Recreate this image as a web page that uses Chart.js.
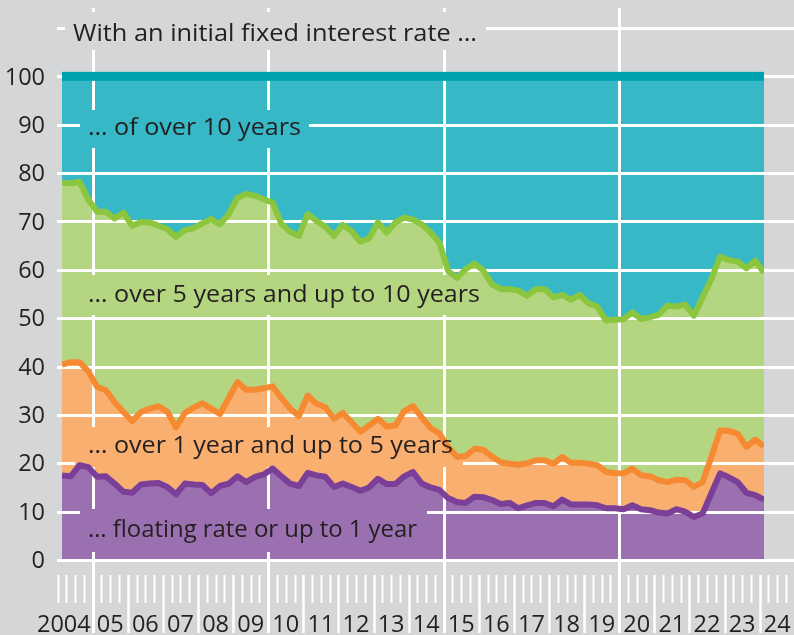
<!DOCTYPE html>
<html>
<head>
<meta charset="utf-8">
<script src="https://cdn.jsdelivr.net/npm/chart.js@4/dist/chart.umd.min.js"></script>
<style>
html,body{margin:0;padding:0;background:#d5d6d8;overflow:hidden;}
canvas{display:block;}
</style>
</head>
<body>
<canvas id="c" width="794" height="635" style="width:794px;height:635px"></canvas>
<script>
// ---- Data (cumulative shares, %) ----
const quarters = [
 "2004Q1","2004Q2","2004Q3","2004Q4","2005Q1","2005Q2","2005Q3","2005Q4",
 "2006Q1","2006Q2","2006Q3","2006Q4","2007Q1","2007Q2","2007Q3","2007Q4",
 "2008Q1","2008Q2","2008Q3","2008Q4","2009Q1","2009Q2","2009Q3","2009Q4",
 "2010Q1","2010Q2","2010Q3","2010Q4","2011Q1","2011Q2","2011Q3","2011Q4",
 "2012Q1","2012Q2","2012Q3","2012Q4","2013Q1","2013Q2","2013Q3","2013Q4",
 "2014Q1","2014Q2","2014Q3","2014Q4","2015Q1","2015Q2","2015Q3","2015Q4",
 "2016Q1","2016Q2","2016Q3","2016Q4","2017Q1","2017Q2","2017Q3","2017Q4",
 "2018Q1","2018Q2","2018Q3","2018Q4","2019Q1","2019Q2","2019Q3","2019Q4",
 "2020Q1","2020Q2","2020Q3","2020Q4","2021Q1","2021Q2","2021Q3","2021Q4",
 "2022Q1","2022Q2","2022Q3","2022Q4","2023Q1","2023Q2","2023Q3","2023Q4",
 "2024Q1"
];
// floating rate or up to 1 year
const floatingUpTo1Y = [
 17.5,17.3,19.6,19.2,17.2,17.3,15.8,14.1,13.9,15.6,
 15.8,15.9,15.1,13.6,15.8,15.6,15.5,13.8,15.3,15.8,
 17.3,16.1,17.2,17.7,18.9,17.3,15.8,15.3,18.0,17.5,
 17.2,15.1,15.8,15.1,14.3,15.0,16.8,15.7,15.7,17.3,
 18.2,15.8,15.0,14.5,12.8,12.0,11.8,13.1,13.0,12.4,
 11.6,11.8,10.7,11.3,11.8,11.8,11.1,12.5,11.5,11.5,
 11.5,11.3,10.7,10.7,10.5,11.3,10.5,10.3,9.8,9.6,
 10.5,10.0,8.9,9.6,13.8,17.9,17.1,16.1,13.9,13.4,
 12.5
];
// cumulative: up to 5 years
const cumUpTo5Y = [
 40.4,40.9,40.9,39.0,35.8,35.1,32.6,30.6,28.7,30.6,
 31.3,31.8,30.7,27.4,30.4,31.5,32.4,31.3,30.2,33.5,
 36.8,35.2,35.2,35.5,35.9,33.5,31.3,29.8,34.0,32.3,
 31.6,29.2,30.4,28.5,26.5,27.8,29.2,27.6,27.8,30.8,
 31.8,29.5,27.3,26.2,23.4,21.3,21.5,23.0,22.8,21.4,
 20.2,19.9,19.7,20.0,20.6,20.6,19.9,21.3,20.1,20.1,
 19.9,19.6,18.2,18.0,17.9,18.9,17.5,17.3,16.5,16.1,
 16.6,16.5,15.1,16.1,21.3,26.8,26.7,26.1,23.4,24.9,
 23.5
];
// cumulative: up to 10 years
const cumUpTo10Y = [
 78.0,77.9,78.2,74.5,72.0,72.0,70.6,71.8,69.1,69.9,
 69.8,69.1,68.4,66.8,68.2,68.6,69.6,70.5,69.4,71.5,
 74.9,75.7,75.3,74.6,73.9,69.5,67.8,67.0,71.5,70.1,
 68.9,67.0,69.3,68.0,65.8,66.5,69.8,67.7,69.8,70.8,
 70.4,69.4,67.7,65.6,59.8,58.3,60.1,61.3,59.9,57.0,
 56.0,56.0,55.7,54.6,56.0,56.0,54.3,54.8,53.8,54.8,
 53.1,52.4,49.5,49.7,49.8,51.2,49.8,50.2,50.7,52.6,
 52.4,52.8,50.5,54.3,58.1,62.7,62.0,61.7,60.3,61.9,
 59.4
];
const yearLabels = ["2004","05","06","07","08","09","10","11","12","13","14",
  "15","16","17","18","19","20","21","22","23","24"];
const firstYear = 2004;
const yTicks = [0,10,20,30,40,50,60,70,80,90,100];
const titleText = "With an initial fixed interest rate \u2026";
const bandLabels = {
  over10: "\u2026 of over 10 years",
  y5to10: "\u2026 over 5 years and up to 10 years",
  y1to5: "\u2026 over 1 year and up to 5 years",
  float: "\u2026 floating rate or up to 1 year"
};

// ---- Styling ----
const BG = '#d5d6d8';
const TXT = '#231f20';
const FONT = '"Open Sans", "Noto Sans", sans-serif';
const C = {
  cyan: '#37b8c7', teal: '#00a2b2',
  greenFill: '#b5d681', greenLine: '#8cc63f',
  orangeFill: '#f9af6f', orangeLine: '#f68a33',
  purpleFill: '#9a70b0', purpleLine: '#7b3f98'
};

function qToX(q) {
  const yr = parseInt(q.slice(0, 4), 10);
  const qn = parseInt(q.slice(5), 10);
  return yr + (qn - 0.5) / 4;
}
function pts(arr) { return arr.map((v, i) => ({x: qToX(quarters[i]), y: v})); }

// draw text at a given font size, squeezed horizontally to a target width
function drawFitted(ctx, text, x, y, width, size) {
  ctx.font = size + 'px ' + FONT;
  const w = ctx.measureText(text).width;
  const s = width / w;
  ctx.save();
  ctx.translate(x, y);
  ctx.scale(s, 1);
  ctx.fillText(text, 0, 0);
  ctx.restore();
}

function bandClip(ctx, chart, upper, lower) {
  const {x, y} = chart.scales;
  const ca = chart.chartArea;
  ctx.beginPath();
  if (upper) {
    upper.forEach((v, i) => {
      const px = x.getPixelForValue(qToX(quarters[i])), py = y.getPixelForValue(v);
      if (i === 0) ctx.moveTo(px, py); else ctx.lineTo(px, py);
    });
  } else {
    const py = y.getPixelForValue(100);
    ctx.moveTo(ca.left, py); ctx.lineTo(ca.right, py);
  }
  if (lower) {
    for (let i = lower.length - 1; i >= 0; i--) {
      ctx.lineTo(x.getPixelForValue(qToX(quarters[i])), y.getPixelForValue(lower[i]));
    }
  } else {
    const py = y.getPixelForValue(0);
    ctx.lineTo(ca.right, py); ctx.lineTo(ca.left, py);
  }
  ctx.closePath();
  ctx.clip();
}

const decor = {
  id: 'decor',
  beforeDraw(chart) {
    const ctx = chart.ctx;
    ctx.save();
    ctx.fillStyle = BG;
    ctx.fillRect(0, 0, chart.width, chart.height);
    ctx.restore();
  },
  beforeDatasetDraw(chart, args) {
    if (args.index !== 2) return;
    const {ctx, chartArea: ca} = chart;
    const {x, y} = chart.scales;
    ctx.save();
    ctx.strokeStyle = '#ffffff';
    // horizontal gridlines
    ctx.lineWidth = 3;
    for (const v of yTicks.concat([110])) {
      const py = Math.round(y.getPixelForValue(v)) + 0.5;
      ctx.beginPath(); ctx.moveTo(57, py); ctx.lineTo(chart.width, py); ctx.stroke();
    }
    // vertical year lines
    for (let yr = firstYear + 1; yr <= firstYear + yearLabels.length - 1; yr++) {
      const px = Math.round(x.getPixelForValue(yr)) + 0.5;
      if ((yr % 5) === 0) {
        ctx.lineWidth = 3;
        ctx.beginPath(); ctx.moveTo(px, 8); ctx.lineTo(px, 633); ctx.stroke();
      } else {
        ctx.lineWidth = 2.5;
        ctx.beginPath(); ctx.moveTo(px, 575); ctx.lineTo(px, 633); ctx.stroke();
      }
    }
    // quarter ticks
    ctx.lineWidth = 2;
    for (let i = 0; i < yearLabels.length; i++) {
      for (let q = 0; q < 4; q++) {
        if (q === 0 && i > 0) continue;
        const px = Math.round(x.getPixelForValue(firstYear + i + q / 4)) + 0.5;
        ctx.beginPath(); ctx.moveTo(px, 575); ctx.lineTo(px, 603); ctx.stroke();
      }
    }
    // teal top line at 100
    const y100 = y.getPixelForValue(100);
    ctx.fillStyle = C.teal;
    ctx.fillRect(ca.left, y100 - 4.5, ca.right - ca.left, 9);
    // title knockout
    ctx.fillStyle = BG;
    ctx.fillRect(65, 12, 421, 38);
    ctx.restore();
    // band label knockouts, clipped to their bands
    const boxes = [
      {fill: C.cyan, up: null, lo: cumUpTo10Y, r: [80, 110, 229, 38]},
      {fill: C.greenFill, up: cumUpTo10Y, lo: cumUpTo5Y, r: [80, 275, 410, 40]},
      {fill: C.orangeFill, up: cumUpTo5Y, lo: floatingUpTo1Y, r: [75, 427, 388, 40]},
      {fill: C.purpleFill, up: floatingUpTo1Y, lo: null, r: [80, 509, 347, 43]}
    ];
    for (const b of boxes) {
      ctx.save();
      bandClip(ctx, chart, b.up, b.lo);
      ctx.fillStyle = b.fill;
      ctx.fillRect(b.r[0], b.r[1], b.r[2], b.r[3]);
      ctx.restore();
    }
  },
  afterDatasetsDraw(chart) {
    const ctx = chart.ctx;
    const {x, y} = chart.scales;
    ctx.save();
    ctx.fillStyle = TXT;
    ctx.textAlign = 'left';
    ctx.textBaseline = 'alphabetic';
    const labels = [
      [titleText, 73, 41, 404],
      [bandLabels.over10, 88, 135, 213],
      [bandLabels.y5to10, 88, 302, 392],
      [bandLabels.y1to5, 88, 453, 365],
      [bandLabels.float, 88, 537, 329]
    ];
    for (const [t, lx, ly, w] of labels) {
      drawFitted(ctx, t, lx, ly, w, 24);
    }
    // y tick labels
    ctx.font = '23.5px ' + FONT;
    ctx.textAlign = 'right';
    ctx.textBaseline = 'middle';
    for (const v of yTicks) {
      ctx.fillText(String(v), 45, y.getPixelForValue(v) + 1.5);
    }
    // x year labels
    ctx.textBaseline = 'alphabetic';
    yearLabels.forEach((lab, i) => {
      if (i === 0) {
        ctx.textAlign = 'right';
        ctx.fillText(lab, x.getPixelForValue(firstYear + 1) - 2, 632);
      } else {
        ctx.textAlign = 'center';
        ctx.fillText(lab, x.getPixelForValue(firstYear + i + 0.5), 632);
      }
    });
    ctx.restore();
  }
};

const lineCommon = {
  fill: false, pointRadius: 0, borderWidth: 6, tension: 0,
  borderJoinStyle: 'round', borderCapStyle: 'butt'
};
const fillCommon = {
  pointRadius: 0, borderWidth: 0, borderColor: 'rgba(0,0,0,0)', tension: 0
};

new Chart(document.getElementById('c'), {
  type: 'line',
  data: {
    datasets: [
      Object.assign({label: 'floating line', data: pts(floatingUpTo1Y), borderColor: C.purpleLine, order: 0}, lineCommon),
      Object.assign({label: '5y line', data: pts(cumUpTo5Y), borderColor: C.orangeLine, order: 1}, lineCommon),
      Object.assign({label: '10y line', data: pts(cumUpTo10Y), borderColor: C.greenLine, order: 2}, lineCommon),
      Object.assign({label: 'floating', data: pts(floatingUpTo1Y), backgroundColor: C.purpleFill, fill: 'origin', order: 10}, fillCommon),
      Object.assign({label: '1-5y', data: pts(cumUpTo5Y), backgroundColor: C.orangeFill, fill: 'origin', order: 11}, fillCommon),
      Object.assign({label: '5-10y', data: pts(cumUpTo10Y), backgroundColor: C.greenFill, fill: 'origin', order: 12}, fillCommon),
      Object.assign({label: '>10y', data: pts(cumUpTo10Y), backgroundColor: C.cyan, fill: {value: 100}, order: 13}, fillCommon)
    ]
  },
  options: {
    responsive: false,
    animation: false,
    devicePixelRatio: 1,
    layout: {padding: {left: 62, right: 30, top: 28, bottom: 75}},
    scales: {
      x: {type: 'linear', display: false, min: 2004.125, max: 2024.125},
      y: {type: 'linear', display: false, min: 0, max: 110}
    },
    plugins: {legend: {display: false}, tooltip: {enabled: false}},
    elements: {point: {radius: 0}}
  },
  plugins: [decor]
});
</script>
</body>
</html>
